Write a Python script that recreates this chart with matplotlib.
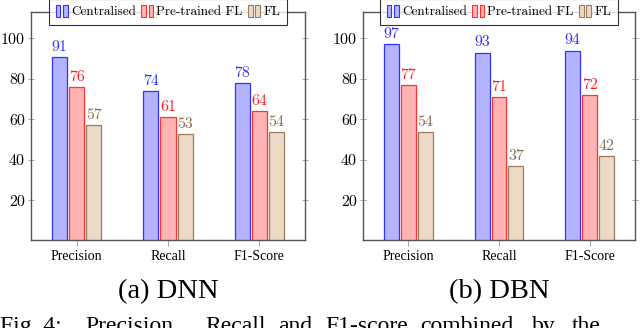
import matplotlib
matplotlib.use('Agg')
import matplotlib.pyplot as plt
import numpy as np
from matplotlib.patches import Rectangle
from matplotlib.legend_handler import HandlerBase

# data
metrics = ['Precision', 'Recall', 'F1-Score']
series = ['Centralised', 'Pre-trained FL', 'FL']
dnn_central = [91, 74, 78]
dnn_pretrained = [76, 61, 64]
dnn_fl = [57, 53, 54]
dbn_central = [97, 93, 94]
dbn_pretrained = [77, 71, 72]
dbn_fl = [54, 37, 42]
yticks = [20, 40, 60, 80, 100]

# figure caption, cut off by the bottom edge in the reference
caption_words = ['Fig. 4:', 'Precision,', 'Recall', 'and', 'F1-score', 'combined', 'by', 'the']
caption_x = [0, 85, 205, 278, 325, 420, 532, 572]

fills = [(0.7, 0.7, 1.0), (1.0, 0.7, 0.7), (0.925, 0.85, 0.775)]
edges = ['#3333ff', '#ff3333', '#9c7b5c']
label_cols = ['#3333ff', '#ff2222', '#8c6d4f']

num_font = 'cmr10'
serif = 'Liberation Serif'
plt.rcParams['axes.unicode_minus'] = False


class TwoBars(HandlerBase):
    # pgfplots-style ybar legend glyph
    def create_artists(self, legend, orig, xd, yd, w, h, fontsize, trans):
        bw = w * 0.38
        arts = []
        for x0 in (-xd, -xd + w - bw):
            r = Rectangle((x0, -yd - 0.15 * h), bw, h * 1.25,
                          facecolor=orig.get_facecolor(), edgecolor=orig.get_edgecolor(),
                          linewidth=0.8, transform=trans)
            arts.append(r)
        return arts


def draw(ax, groups, caption):
    x = np.arange(len(metrics))
    width = 0.165
    offset = 0.187
    handles = []
    for i, vals in enumerate(groups):
        bars = ax.bar(x + (i - 1) * offset, vals, width, color=fills[i],
                      edgecolor=edges[i], linewidth=0.9, label=series[i])
        handles.append(bars[0])
        for xi, v in zip(x + (i - 1) * offset, vals):
            ax.text(xi, v + 1.5, str(v), ha='center', va='bottom',
                    fontsize=11.5, family=num_font, color=label_cols[i])
    ax.set_xlim(-0.5, 2.5)
    ax.set_ylim(0.5, 113)
    ax.set_yticks(yticks)
    ax.set_yticklabels([str(t) for t in yticks], family=num_font, fontsize=11.5)
    ax.set_xticks(x)
    ax.set_xticklabels(metrics, family=serif, fontsize=10)
    ax.tick_params(axis='y', direction='inout', length=5, width=0.6, color='#999999',
                   right=True, pad=2)
    ax.tick_params(axis='x', direction='out', length=4, width=0.6, color='#999999', pad=3)
    for s in ax.spines.values():
        s.set_color('#555555')
        s.set_linewidth(1.0)
    leg = ax.legend(handles=handles, labels=series, loc='center', bbox_to_anchor=(0.5, 1.0),
                    ncol=3, frameon=True, fancybox=False, handler_map={Rectangle: TwoBars()},
                    handlelength=0.9, handleheight=0.8, handletextpad=0.25, columnspacing=0.4,
                    borderpad=0.5, prop={'family': num_font, 'size': 9.5}, borderaxespad=0)
    leg.get_frame().set_edgecolor('black')
    leg.get_frame().set_linewidth(0.8)
    ax.text(0.5, -0.254, caption, transform=ax.transAxes, ha='center', va='baseline',
            family=serif, fontsize=20.5)


fig = plt.figure(figsize=(6.4, 3.28), dpi=100)
ax1 = fig.add_axes([31 / 640, 1 - 240 / 328, 274 / 640, 228 / 328])
ax2 = fig.add_axes([363 / 640, 1 - 240 / 328, 272 / 640, 228 / 328])
draw(ax1, [dnn_central, dnn_pretrained, dnn_fl], '(a) DNN')
draw(ax2, [dbn_central, dbn_pretrained, dbn_fl], '(b) DBN')

for word, px in zip(caption_words, caption_x):
    fig.text(px / 640, 1 - 332 / 328, word, ha='left', va='baseline',
             family=serif, fontsize=17)

fig.savefig('out.png', dpi=100)
